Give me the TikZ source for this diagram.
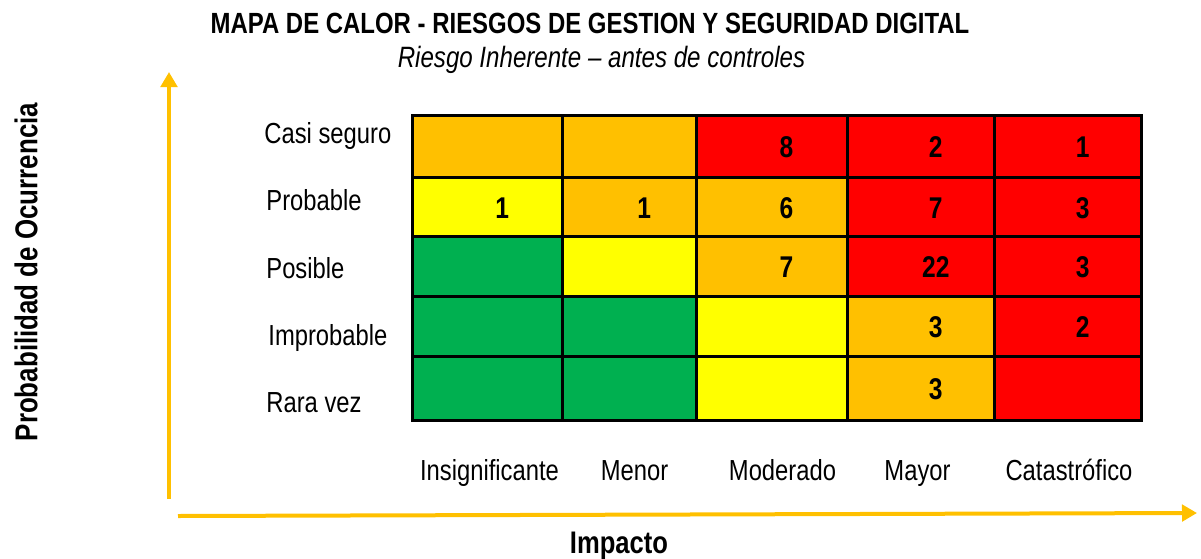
\documentclass[tikz,border=0pt]{standalone}
\usepackage{fontspec}
\setmainfont{Liberation Sans}[FakeStretch=0.82]
\usetikzlibrary{arrows.meta}

\definecolor{heatred}{HTML}{FF0000}
\definecolor{heatorange}{HTML}{FFC000}
\definecolor{heatyellow}{HTML}{FFFF00}
\definecolor{heatgreen}{HTML}{00B050}
\definecolor{axisamber}{HTML}{FFC000}

\tikzset{
  axis/.style={axisamber, line width=2pt, -{Triangle[length=7.5pt,width=8.2pt]}},
  count/.style={font=\fontsize{15}{18}\selectfont\bfseries, inner sep=0pt},
  lbl/.style={font=\fontsize{14.5}{17}\selectfont, inner sep=0pt}
}

\begin{document}
\begin{tikzpicture}[x=0.5pt,y=-0.5pt]
    \useasboundingbox (0,0) rectangle (1201,558);
    \def\xs{{412,562.5,696,847,994.5,1141}}
    \def\ys{{115,177.5,236,296,356.5,420.5}}
    % cells, one row per probability level
    \foreach [count=\i] \cells in {
      {heatorange/,heatorange/,heatred/8,heatred/2,heatred/1},
      {heatyellow/1,heatorange/1,heatorange/6,heatred/7,heatred/3},
      {heatgreen/,heatyellow/,heatorange/7,heatred/22,heatred/3},
      {heatgreen/,heatgreen/,heatyellow/,heatorange/3,heatred/2},
      {heatgreen/,heatgreen/,heatyellow/,heatorange/3,heatred/}} {
      \foreach [count=\j] \fillcol/\num in \cells {
        \pgfmathsetmacro\xa{\xs[\j-1]}
        \pgfmathsetmacro\xb{\xs[\j]}
        \pgfmathsetmacro\ya{\ys[\i-1]}
        \pgfmathsetmacro\yb{\ys[\i]}
        \filldraw[fill=\fillcol, draw=black, line width=1.5pt] (\xa,\ya) rectangle (\xb,\yb);
        \node[count] (n\i\j) at ({(\xa+\xb)/2+15},{(\ya+\yb)/2+1}) {\num};
      }
    }
    % row labels
    \node[lbl, anchor=base west] (casi) at (264,143) {Casi seguro};
    \node[lbl, anchor=base west] (prob) at (266,210) {Probable};
    \node[lbl, anchor=base west] (posi) at (266,278) {Posible};
    \node[lbl, anchor=base west] (impr) at (268,345) {Improbable};
    \node[lbl, anchor=base west] (rara) at (266,412) {Rara vez};
    % column labels
    \node[lbl, anchor=base] (insig) at (489.5,480) {Insignificante};
    \node[lbl, anchor=base] (menor) at (634.5,480) {Menor};
    \node[lbl, anchor=base] (moder) at (782.5,480) {Moderado};
    \node[lbl, anchor=base] (mayor) at (917.5,480) {Mayor};
    \node[lbl, anchor=base] (catas) at (1069,480) {Catastrófico};
    % titles
    \node[font=\fontsize{14.6}{17}\selectfont\bfseries, anchor=base] (title) at (590,33) {MAPA DE CALOR - RIESGOS DE GESTION Y SEGURIDAD DIGITAL};
    \node[font=\fontsize{14.7}{17}\selectfont\itshape, anchor=base] (subtitle) at (601.5,67) {Riesgo Inherente – antes de controles};
    % axes
    \coordinate (yfoot) at (169,499);
    \coordinate (ytip) at (169,72);
    \coordinate (xfoot) at (178,516);
    \coordinate (xtip) at (1197,513);
    \draw[axis] (yfoot) -- (ytip);
    \draw[axis] (xfoot) -- (xtip);
    \node[font=\fontsize{15.8}{18}\selectfont\bfseries, rotate=90] (ylabel) at (26,272) {Probabilidad de Ocurrencia};
    \node[font=\fontsize{15.6}{18}\selectfont\bfseries, anchor=base] (xlabel) at (619,553) {Impacto};
\end{tikzpicture}
\end{document}
